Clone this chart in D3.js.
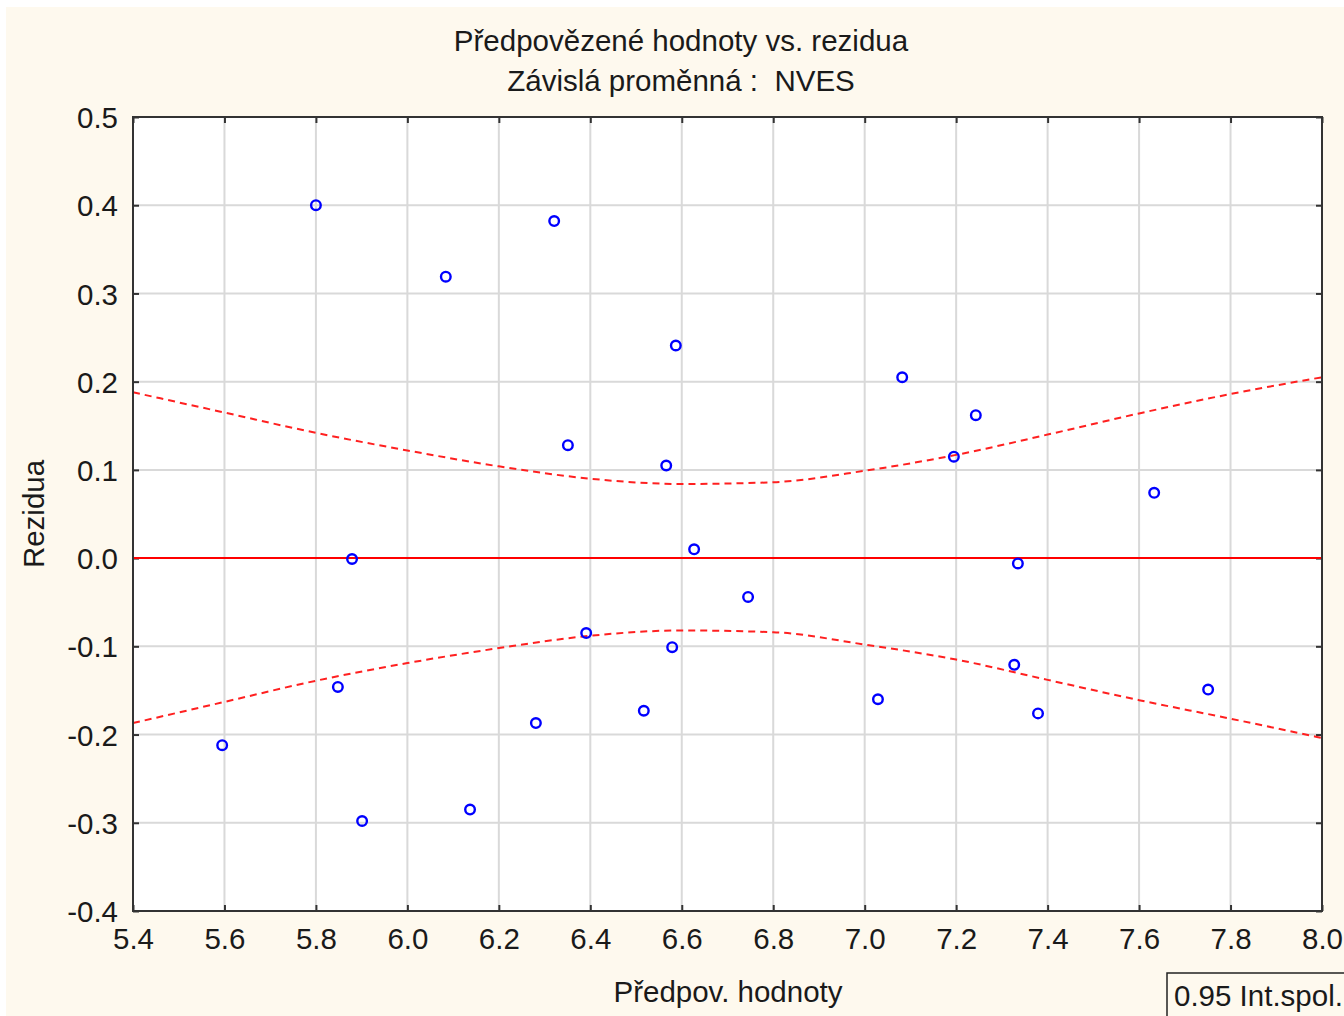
<!DOCTYPE html>
<html>
<head>
<meta charset="utf-8">
<script src="https://cdn.jsdelivr.net/npm/d3@7"></script>
<style>
  body { margin: 0; background: #fff; }
  text { font-family: "Liberation Sans", Arial, sans-serif; fill: #1a1a1a; white-space: pre; }
</style>
</head>
<body>
<div id="chart"></div>
<script>
'use strict';

// predicted values vs. residuals
const predicted = [5.595, 5.800, 5.848, 5.879, 5.901, 6.084, 6.137, 6.281, 6.321, 6.351,
                   6.391, 6.517, 6.566, 6.579, 6.587, 6.627, 6.745, 7.029, 7.082, 7.195,
                   7.243, 7.327, 7.335, 7.379, 7.633, 7.751];
const residuals = [-0.212, 0.400, -0.146, -0.001, -0.298, 0.319, -0.285, -0.187, 0.382, 0.128,
                   -0.085, -0.173, 0.105, -0.101, 0.241, 0.010, -0.044, -0.160, 0.205, 0.115,
                   0.162, -0.121, -0.006, -0.176, 0.074, -0.149];

// 0.95 confidence band
const bandX     = [5.4, 5.6, 5.8, 6.0, 6.2, 6.4, 6.6, 6.8, 7.0, 7.2, 7.4, 7.6, 7.8, 8.0];
const bandUpper = [0.188, 0.165, 0.142, 0.122, 0.104, 0.090, 0.084, 0.086, 0.099, 0.117, 0.140, 0.164, 0.186, 0.205];
const bandLower = [-0.187, -0.163, -0.139, -0.119, -0.102, -0.088, -0.082, -0.084, -0.098, -0.115, -0.138, -0.161, -0.182, -0.204];

const xTicks = [5.4, 5.6, 5.8, 6.0, 6.2, 6.4, 6.6, 6.8, 7.0, 7.2, 7.4, 7.6, 7.8, 8.0];
const yTicks = [-0.4, -0.3, -0.2, -0.1, 0.0, 0.1, 0.2, 0.3, 0.4, 0.5];

const titleLines = ['Předpovězené hodnoty vs. rezidua', 'Závislá proměnná :  NVES'];
const xLabel = 'Předpov. hodnoty';
const yLabel = 'Rezidua';
const legendText = '0.95 Int.spol.';

const W = 1344, H = 1016;
const margin = {top: 117, right: 22, bottom: 105, left: 133};
const FONT = 29.5;

const svg = d3.select('#chart').append('svg')
    .attr('width', W)
    .attr('height', H);

svg.append('rect')
    .attr('x', 6).attr('y', 7)
    .attr('width', W - 6).attr('height', H - 7)
    .attr('fill', '#fef9ee');

const x = d3.scaleLinear().domain([5.4, 8.0]).range([margin.left, W - margin.right]);
const y = d3.scaleLinear().domain([-0.4, 0.5]).range([H - margin.bottom, margin.top]);

// plot area
svg.append('rect')
    .attr('x', x(5.4)).attr('y', y(0.5))
    .attr('width', x(8.0) - x(5.4)).attr('height', y(-0.4) - y(0.5))
    .attr('fill', '#fff');

// grid
svg.append('g')
    .selectAll('line')
    .data(xTicks.slice(1, -1))
    .join('line')
        .attr('x1', d => x(d)).attr('x2', d => x(d))
        .attr('y1', y(0.5)).attr('y2', y(-0.4))
        .attr('stroke', '#d9d9d9').attr('stroke-width', 2);

svg.append('g')
    .selectAll('line')
    .data(yTicks.slice(1, -1))
    .join('line')
        .attr('x1', x(5.4)).attr('x2', x(8.0))
        .attr('y1', d => y(d)).attr('y2', d => y(d))
        .attr('stroke', '#d9d9d9').attr('stroke-width', 2);

// axes: labels outside, ticks drawn inward
const fmt = d => d3.format('.1f')(d).replace('\u2212', '-');

const xAxis = svg.append('g')
    .attr('transform', `translate(0,${y(-0.4)})`)
    .call(d3.axisBottom(x).tickValues(xTicks).tickFormat(fmt).tickSize(-6).tickPadding(17));
const yAxis = svg.append('g')
    .attr('transform', `translate(${x(5.4)},0)`)
    .call(d3.axisLeft(y).tickValues(yTicks).tickFormat(fmt).tickSize(-6).tickPadding(15));
const xTop = svg.append('g')
    .attr('transform', `translate(0,${y(0.5)})`)
    .call(d3.axisTop(x).tickValues(xTicks).tickSize(-6).tickFormat(''));
const yRight = svg.append('g')
    .attr('transform', `translate(${x(8.0)},0)`)
    .call(d3.axisRight(y).tickValues(yTicks).tickSize(-6).tickFormat(''));

[xAxis, yAxis, xTop, yRight].forEach(g => {
    g.select('.domain').remove();
    g.selectAll('line').attr('stroke', '#333').attr('stroke-width', 2);
    g.selectAll('text').attr('font-size', FONT).attr('fill', '#1a1a1a')
        .attr('font-family', '"Liberation Sans", Arial, sans-serif');
});
xAxis.selectAll('text').attr('dy', '0.71em');
yAxis.selectAll('text').attr('dy', '0.36em');

// zero line
svg.append('line')
    .attr('x1', x(5.4)).attr('x2', x(8.0))
    .attr('y1', y(0)).attr('y2', y(0))
    .attr('stroke', '#ff0000').attr('stroke-width', 2);

// confidence band
const line = d3.line()
    .x(d => x(d[0]))
    .y(d => y(d[1]))
    .curve(d3.curveMonotoneX);

[bandUpper, bandLower].forEach(band => {
    svg.append('path')
        .datum(bandX.map((v, i) => [v, band[i]]))
        .attr('d', line)
        .attr('fill', 'none')
        .attr('stroke', '#ff2020')
        .attr('stroke-width', 2)
        .attr('stroke-dasharray', '7,5');
});

// points
svg.append('g')
    .selectAll('circle')
    .data(predicted.map((v, i) => ({x: v, y: residuals[i]})))
    .join('circle')
        .attr('cx', d => x(d.x))
        .attr('cy', d => y(d.y))
        .attr('r', 4.8)
        .attr('fill', 'none')
        .attr('stroke', '#0000ff')
        .attr('stroke-width', 2.4);

// frame
svg.append('rect')
    .attr('x', x(5.4)).attr('y', y(0.5))
    .attr('width', x(8.0) - x(5.4)).attr('height', y(-0.4) - y(0.5))
    .attr('fill', 'none')
    .attr('stroke', '#333').attr('stroke-width', 2);

// titles
svg.selectAll('text.title')
    .data(titleLines)
    .join('text')
        .attr('class', 'title')
        .attr('x', 681)
        .attr('y', (d, i) => 51 + i * 40)
        .attr('text-anchor', 'middle')
        .attr('font-size', FONT)
        .text(d => d);

svg.append('text')
    .attr('x', 728).attr('y', 1002)
    .attr('text-anchor', 'middle')
    .attr('font-size', FONT)
    .text(xLabel);

svg.append('text')
    .attr('transform', `translate(44,${y(0.05)}) rotate(-90)`)
    .attr('text-anchor', 'middle')
    .attr('font-size', FONT)
    .text(yLabel);

// legend box
svg.append('rect')
    .attr('x', 1167).attr('y', 973)
    .attr('width', 190).attr('height', 50)
    .attr('fill', 'none')
    .attr('stroke', '#222').attr('stroke-width', 1.5);
svg.append('text')
    .attr('x', 1174).attr('y', 1006)
    .attr('font-size', FONT)
    .text(legendText);
</script>
</body>
</html>
